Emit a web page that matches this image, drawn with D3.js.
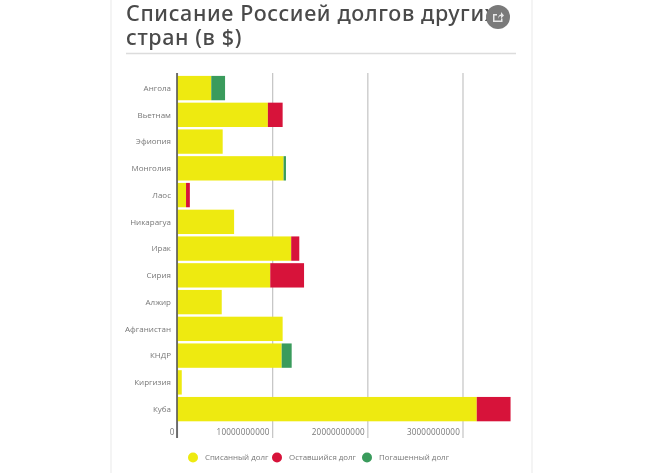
<!DOCTYPE html>
<html>
<head>
<meta charset="utf-8">
<script src="https://cdnjs.cloudflare.com/ajax/libs/d3/7.8.5/d3.min.js"></script>
<style>
html, body { margin: 0; padding: 0; background: #fff; overflow: hidden; }
svg { display: block; font-family: "Open Sans", sans-serif; filter: blur(0.35px); }
</style>
</head>
<body>
<div id="chart"></div>
<script>
var countries = ["Ангола", "Вьетнам", "Эфиопия", "Монголия", "Лаос", "Никарагуа", "Ирак", "Сирия", "Алжир", "Афганистан", "КНДР", "Киргизия", "Куба"];
var writtenOff = [3.6e9, 9.55e9, 4.8e9, 11.2e9, 0.95e9, 6.0e9, 12.0e9, 9.8e9, 4.7e9, 11.1e9, 11.0e9, 0.5e9, 31.5e9];
var remaining = [0, 1.55e9, 0, 0, 0.4e9, 0, 0.85e9, 3.55e9, 0, 0, 0, 0, 3.55e9];
var repaid = [1.45e9, 0, 0, 0.25e9, 0, 0, 0, 0, 0, 0, 1.05e9, 0, 0];
var xTicks = [0, 1e10, 2e10, 3e10];
var seriesNames = ["Списанный долг", "Оставшийся долг", "Погашенный долг"];
var seriesColors = ["#eeea10", "#d7133a", "#3a9b5c"];
var seriesKeys = ["writtenOff", "remaining", "repaid"];

var width = 650, height = 473;
var svg = d3.select("#chart").append("svg").attr("width", width).attr("height", height);

// card edges
svg.selectAll(".edge").data([111, 532]).enter().append("line")
    .attr("x1", function(d) { return d; }).attr("x2", function(d) { return d; })
    .attr("y1", 0).attr("y2", height)
    .attr("stroke", "#f0f0f0").attr("stroke-width", 1.5);

// title
svg.selectAll(".title").data(["Списание Россией долгов других", "стран (в $)"]).enter().append("text")
    .attr("x", 126).attr("y", function(d, i) { return 21 + i * 23.5; })
    .attr("font-family", "Noto Sans").attr("font-size", 21.5).attr("font-weight", 500)
    .attr("letter-spacing", 0.62)
    .attr("fill", "#4a4a4a").text(function(d) { return d; });
svg.append("line").attr("x1", 126).attr("x2", 516).attr("y1", 53.5).attr("y2", 53.5)
    .attr("stroke", "#dcdcdc").attr("stroke-width", 1.5);

// share button
var share = svg.append("g").attr("transform", "translate(498,17)");
share.append("circle").attr("r", 12).attr("fill", "#7a7a7a");
share.append("path").attr("d", "M-5,-3H-1V-1.5H-3.5V3.5H3V1.5H4.5V5H-5Z M0,2C0,-1 1.5,-2.5 3,-2.5V-5L6,-1.5L3,1.5V-1C1.5,-1 0.5,0 0,2Z")
    .attr("fill", "#e8e8e8");

var x = d3.scaleLinear().domain([0, 3e10]).range([177, 462.5]);
var y = d3.scaleBand().domain(countries).range([74.7, 422.5]).paddingInner(0.09).paddingOuter(0.045);

// axis
var axis = d3.axisBottom(x).tickValues(xTicks).tickSize(-365).tickFormat(d3.format("d"));
var gx = svg.append("g").attr("transform", "translate(0,438)").call(axis);
gx.select(".domain").remove();
gx.selectAll("line").attr("stroke", "#c4c4c4").attr("stroke-width", 1.2);
gx.selectAll("text").attr("text-anchor", "end").attr("dx", -3).attr("y", -3).attr("dy", 0)
    .attr("font-size", 8.1).attr("letter-spacing", 0.2).attr("font-family", "Open Sans").attr("fill", "#777");

// stacks
var rows = countries.map(function(c, i) {
    return { country: c, writtenOff: writtenOff[i], remaining: remaining[i], repaid: repaid[i] };
});
var stacked = d3.stack().keys(seriesKeys)(rows);
svg.selectAll(".series").data(stacked).enter().append("g")
    .attr("fill", function(d, i) { return seriesColors[i]; })
    .selectAll("rect").data(function(d) { return d; }).enter().append("rect")
    .attr("x", function(d) { return x(d[0]); })
    .attr("width", function(d) { return x(d[1]) - x(d[0]); })
    .attr("y", function(d) { return y(d.data.country); })
    .attr("height", y.bandwidth());

// baseline on top of bars
svg.append("line").attr("x1", x(0)).attr("x2", x(0)).attr("y1", 73).attr("y2", 438)
    .attr("stroke", "#555").attr("stroke-width", 1.6);

// category labels
svg.selectAll(".cat").data(countries).enter().append("text")
    .attr("x", 171).attr("y", function(d) { return y(d) + y.bandwidth() / 2; })
    .attr("dy", "0.35em").attr("text-anchor", "end")
    .attr("font-size", 8).attr("fill", "#777").text(function(d) { return d; });

// legend
var legendX = [193, 277, 367];
var legend = svg.selectAll(".leg").data(seriesNames).enter().append("g")
    .attr("transform", function(d, i) { return "translate(" + legendX[i] + ",457.5)"; });
legend.append("circle").attr("r", 5).attr("fill", function(d, i) { return seriesColors[i]; });
legend.append("text").attr("x", 12).attr("dy", "0.35em").attr("font-size", 7.9)
    .attr("fill", "#777").text(function(d) { return d; });
</script>
</body>
</html>
